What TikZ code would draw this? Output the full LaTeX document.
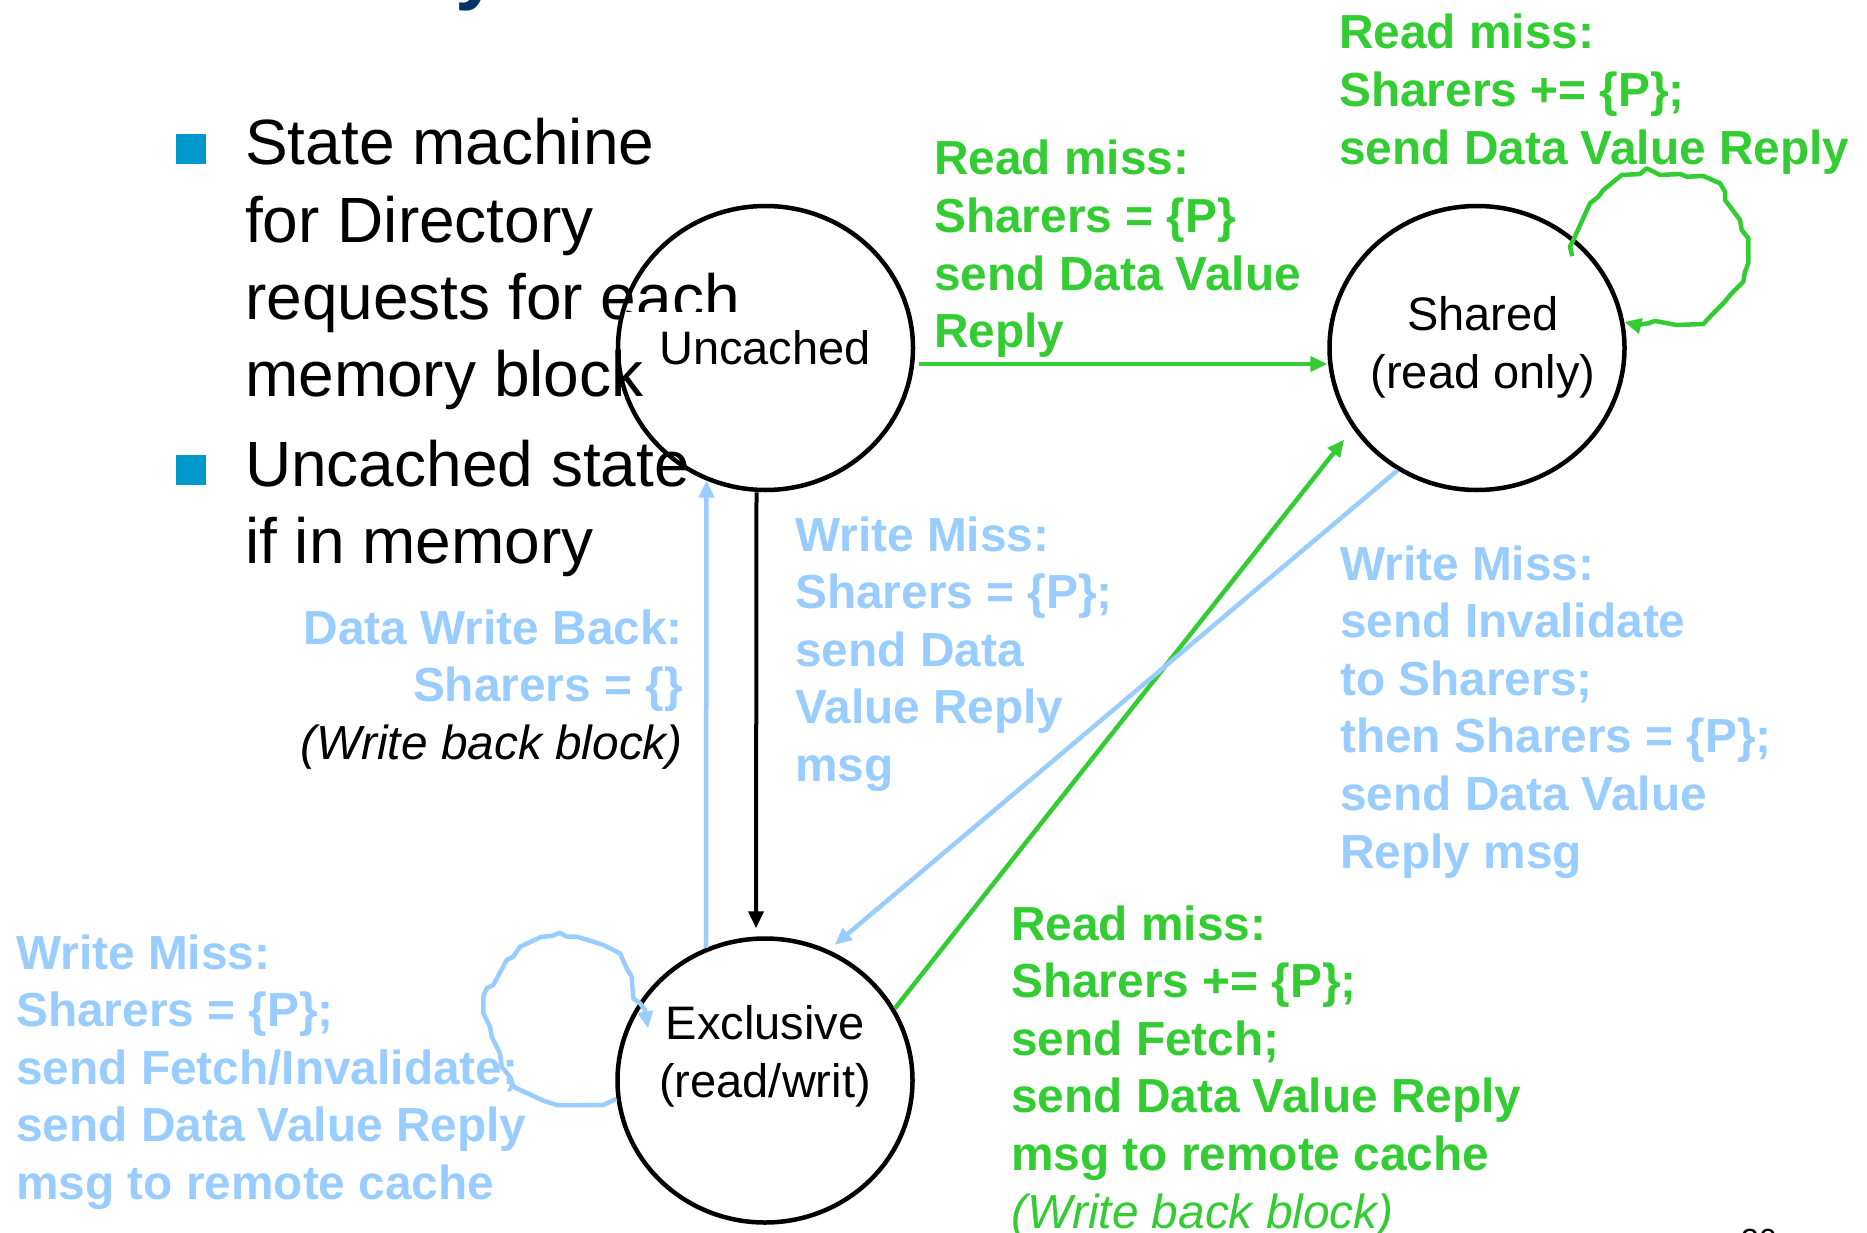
\documentclass[tikz,border=0pt]{standalone}
\usepackage{fontspec}
\setmainfont{Liberation Sans}
\usetikzlibrary{arrows.meta,shapes.geometric,calc}
\definecolor{grn}{RGB}{51,204,51}
\definecolor{lblue}{RGB}{153,204,255}
\definecolor{bulletblue}{RGB}{0,153,204}
\definecolor{navy}{RGB}{0,51,102}
% stacked lines, baseline of the box = baseline of the first line
\newcommand\LinesL[2]{\vtop{\baselineskip=#1\halign{##\hfil\cr#2\crcr}}}
\newcommand\LinesR[2]{\vtop{\baselineskip=#1\halign{\hfil##\cr#2\crcr}}}
\begin{document}
\begin{tikzpicture}[x=1pt,y=-1pt,
  state/.style={ellipse, draw=black, line width=4.5pt, minimum width=295pt,
    minimum height=284pt, inner sep=0pt},
  stlbl/.style={font=\fontsize{47}{58}\selectfont, align=center, inner sep=0pt},
  bultext/.style={font=\fontsize{64}{77.3}\selectfont, inner sep=0pt, anchor=base west},
  note/.style={font=\bfseries\fontsize{47.8}{57.6}\selectfont, inner sep=0pt, anchor=base west},
  tip/.style={-{Triangle[length=17pt,width=15pt]}},
  gconn/.style={draw=grn, line width=4.5pt, tip},
  bconn/.style={draw=lblue, line width=4.5pt, tip},
  kconn/.style={draw=black, line width=4pt, tip},
  loopline/.style={line width=4.5pt, line join=round, tip}]

\fill[white] (0,0) rectangle (1867,1233);
\useasboundingbox (0,0) rectangle (1867,1233);

% heading remnant and page number
\node[font=\bfseries\fontsize{80}{96}\selectfont, text=navy, anchor=base west, inner sep=0pt]
  (ttl) at (455,-5) {y};
\node[font=\fontsize{32}{38}\selectfont, anchor=base west, inner sep=0pt] (pg) at (1741,1251) {30};

% bullet list
\fill[bulletblue] (176,134) rectangle (206,164);
\fill[bulletblue] (176,455) rectangle (206,485);
\node[bultext] (b1) at (245,165) {\LinesL{77.3pt}{State machine\cr for Directory\cr requests for each\cr memory block}};
\node[bultext] (b2) at (245,486) {\LinesL{77.3pt}{Uncached state\cr if in memory}};

% background of the Uncached label
\fill[white] (623,312) rectangle (905,352);

% states
\node[state] (u) at (765.5,348) {};
\node[state] (s) at (1477,348) {};
\node[state] (e) at (765,1080.5) {};
\node[stlbl] (ul) at (765,348) {Uncached};
\node[stlbl] (sl) at (1483,347) {Shared\\(read only)};
\node[stlbl] (el) at (765,1056) {Exclusive\\(read/writ)};

% transition texts
\node[note, text=grn] (t1) at (934,175)
  {\LinesL{57.6pt}{Read miss:\cr Sharers = \{P\}\cr send Data Value\cr Reply}};
\node[note, text=grn] (t2) at (1339,49)
  {\LinesL{57.6pt}{Read miss:\cr Sharers += \{P\};\cr send Data Value Reply}};
\node[note, text=lblue] (t3) at (795,551)
  {\LinesL{57.6pt}{Write Miss:\cr Sharers = \{P\};\cr send Data\cr Value Reply\cr msg}};
\node[note, text=lblue] (t4) at (1340,580)
  {\LinesL{57.6pt}{Write Miss:\cr send Invalidate\cr to Sharers;\cr then Sharers = \{P\};\cr send Data Value\cr Reply msg}};
\node[note, text=lblue, anchor=base east] (t5) at (683,644)
  {\LinesR{57.6pt}{Data Write Back:\cr Sharers = \{\}\cr {\color{black}\mdseries\itshape (Write back block)}}};
\node[note, text=lblue] (t6) at (16,969)
  {\LinesL{57.6pt}{Write Miss:\cr Sharers = \{P\};\cr send Fetch/Invalidate;\cr send Data Value Reply\cr msg to remote cache}};
\node[note, text=grn] (t7) at (1011,940)
  {\LinesL{57.6pt}{Read miss:\cr Sharers += \{P\};\cr send Fetch;\cr send Data Value Reply\cr msg to remote cache\cr {\mdseries\itshape (Write back block)}}};

% transitions
\draw[gconn, shorten <=4pt] ([yshift=-16pt]u.east) -- ([yshift=-16pt]s.west);
\draw[kconn, shorten >=8pt] ([xshift=-9pt]u.south) -- ([xshift=-9pt]e.north);
\draw[bconn] (e.114) -- (u.246);
\draw[gconn, shorten >=14pt] (e.29) -- (s.213);
\draw[bconn, shorten >=8pt] (s.237) -- (e.64);

% self loops
\draw[loopline, draw=grn] ($(s.center)!0.9!(s.44)$) -- (1570,246.7) -- (1573.3,240)
  -- (1590,203.3) -- (1598.3,196.7) -- (1603.3,190) -- (1621.7,175) -- (1640,174)
  -- (1646.7,168.3) -- (1660,175) -- (1680,174) -- (1686.7,176.7) -- (1703.3,176)
  -- (1720,183.3) -- (1725,191.7) -- (1725,200) -- (1740,220) -- (1741.7,230)
  -- (1748.3,238.3) -- (1748.3,263.3) -- (1745,271.7) -- (1743.3,281.7)
  -- (1736.7,288.3) -- (1731.7,293.3) -- (1723.3,303.3) -- (1713.3,313.3)
  -- (1703.3,324) -- (1676.7,325) -- (1655,321) -- (1648.3,323.3) -- (1636.7,325)
  -- (s.10);
\draw[loopline, draw=lblue] (e.187) -- (603.3,1105) -- (556.7,1105) -- (543.3,1100.7)
  -- (513.3,1086.7) -- (510,1076.7) -- (501.7,1066.7) -- (500,1053.3) -- (491.7,1036.7)
  -- (490,1026.7) -- (483.3,1013.3) -- (483.3,996.7) -- (486.7,988.3) -- (493.3,985)
  -- (506.7,960) -- (513.3,956.7) -- (520,946.7) -- (541.7,936.7) -- (551.7,936)
  -- (560,932.7) -- (566.7,936.7) -- (576.7,936.7) -- (593.3,941.7) -- (603.3,945)
  -- (620,953.3) -- (626.7,968.3) -- (631.7,976.7) -- (633.3,998.3) -- (640,1003.3)
  -- (645,1010) -- ($(e.center)!0.86!(e.156)$);
\end{tikzpicture}
\end{document}
